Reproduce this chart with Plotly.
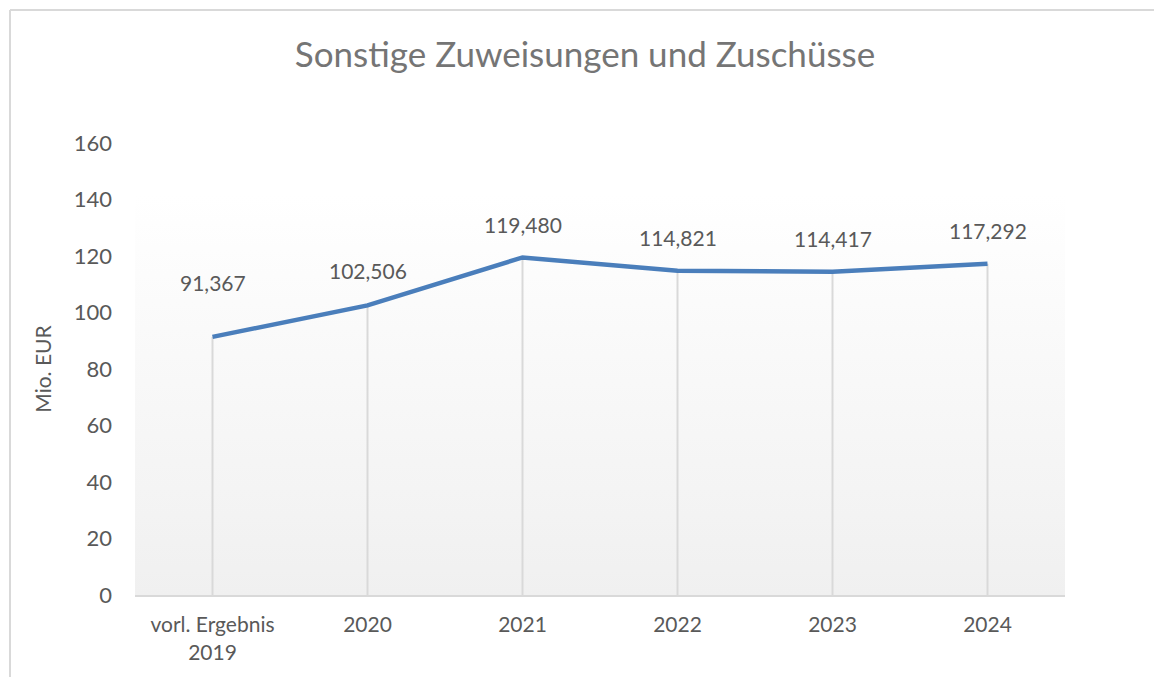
import plotly.graph_objects as go

categories = ["vorl. Ergebnis<br>2019", "2020", "2021", "2022", "2023", "2024"]
values = [91.367, 102.506, 119.480, 114.821, 114.417, 117.292]
value_labels = ["91,367", "102,506", "119,480", "114,821", "114,417", "117,292"]
y_ticks = [0, 20, 40, 60, 80, 100, 120, 140, 160]

label_shift = [54, 35, 33, 33, 33, 33]

FONT = "Lato"
TXT = "#595959"
GRID = "#d9d9d9"

W, H = 1154, 677
L, T = 135, 143
R, B = W - 1065, H - 595
PW, PH = W - L - R, H - T - B

idx = list(range(len(categories)))
fig = go.Figure()

# gradient background of plot area
fig.add_trace(go.Scatter(
    x=[-0.5, 5.5, 5.5, -0.5, -0.5], y=[0, 0, 141.5, 141.5, 0],
    mode="lines", line=dict(width=0), fill="toself",
    fillgradient=dict(type="vertical",
                      colorscale=[[0, "#f0f0f0"], [1, "#ffffff"]]),
    hoverinfo="skip", showlegend=False))

# drop lines
dx, dy = [], []
for i, v in zip(idx, values):
    dx += [i, i, None]
    dy += [0, v, None]
fig.add_trace(go.Scatter(x=dx, y=dy, mode="lines",
                         line=dict(color=GRID, width=2),
                         hoverinfo="skip", showlegend=False))

fig.add_trace(go.Scatter(x=idx, y=values, mode="lines",
                         line=dict(color="#4a7ebb", width=4.5),
                         showlegend=False))

for i, v, t, s in zip(idx, values, value_labels, label_shift):
    fig.add_annotation(x=i, y=v, text=t, showarrow=False, yshift=s,
                       font=dict(family=FONT, size=21, color=TXT))

fig.update_layout(
    width=W, height=H,
    paper_bgcolor="white", plot_bgcolor="white",
    margin=dict(l=L, r=R, t=T, b=B),
    title=dict(text="Sonstige Zuweisungen und Zuschüsse",
               x=585 / W, xanchor="center",
               y=1 - 55 / H, yanchor="middle",
               font=dict(family=FONT, size=35, color="#757575")),
    font=dict(family=FONT, color=TXT),
    xaxis=dict(range=[-0.5, 5.5], tickvals=idx, ticktext=categories,
               showgrid=False, zeroline=False, showline=True,
               linecolor=GRID, linewidth=2, ticks="",
               ticklabelstandoff=10,
               tickfont=dict(family=FONT, size=21, color=TXT)),
    yaxis=dict(range=[0, 160], tickvals=y_ticks, showgrid=False,
               zeroline=False, showline=False, ticks="",
               ticklabelstandoff=22,
               title=dict(text="Mio. EUR", standoff=16,
                          font=dict(family=FONT, size=21, color=TXT)),
               tickfont=dict(family=FONT, size=22, color=TXT)),
)

# outer chart frame (top and left edges only visible)
fx0 = (10 - L) / PW
fy1 = (H - B - 10) / PH
fig.add_shape(type="line", xref="paper", yref="paper",
              x0=fx0, x1=1.5, y0=fy1, y1=fy1,
              line=dict(color=GRID, width=2), layer="below")
fig.add_shape(type="line", xref="paper", yref="paper",
              x0=fx0, x1=fx0, y0=-0.5, y1=fy1,
              line=dict(color=GRID, width=2), layer="below")

fig.write_html(
    "out.html",
    config={"displayModeBar": False},
    post_script="document.documentElement.style.overflow='hidden';"
                "document.body.style.margin='0';"
                "document.body.style.overflow='hidden';",
)
